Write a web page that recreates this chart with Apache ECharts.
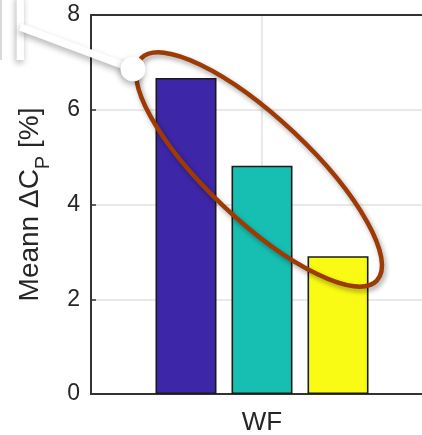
<!DOCTYPE html>
<html>
<head>
<meta charset="utf-8">
<title>Meann ΔCp</title>
<script src="https://cdn.jsdelivr.net/npm/echarts@6/dist/echarts.min.js"></script>
<style>
  html, body { margin: 0; padding: 0; background: #ffffff; }
  #chart { width: 422px; height: 435px; }
</style>
</head>
<body>
<div id="chart"></div>
<script>
// Category and series values
const categories = ['WF'];
const seriesNames = ['A', 'B', 'C'];
const seriesValues = [[6.67], [4.82], [2.91]];
const seriesColors = ['#3e26a8', '#17bfb2', '#f9fb15'];
const yTicks = [0, 2, 4, 6, 8];

const FONT = '"Liberation Sans", Arial, Helvetica, sans-serif';
const AXIS_COLOR = '#333333';
const TEXT_COLOR = '#262626';
const GRID_COLOR = '#e2e2e2';

const chart = echarts.init(document.getElementById('chart'), null, { renderer: 'canvas' });

const series = seriesNames.map((name, i) => ({
  name: name,
  type: 'bar',
  data: seriesValues[i],
  barWidth: 61,
  barGap: '24.6%',
  itemStyle: {
    color: seriesColors[i],
    borderColor: '#1a1a1a',
    borderWidth: 1.6
  },
  z: 3
}));

const option = {
  animation: false,
  backgroundColor: '#ffffff',
  textStyle: { fontFamily: FONT },
  // plot box runs past the right edge of the canvas
  grid: { left: 91, top: 15, width: 342, bottom: 41, containLabel: false, outerBoundsMode: 'none' },
  xAxis: [{
    type: 'category',
    data: categories,
    position: 'bottom',
    axisLine: { show: true, lineStyle: { color: AXIS_COLOR, width: 2 } },
    axisTick: { show: true, inside: true, length: 5, alignWithLabel: true,
                lineStyle: { color: AXIS_COLOR, width: 1.5 } },
    axisLabel: { color: TEXT_COLOR, fontSize: 26, fontFamily: FONT, margin: 16 },
    splitLine: { show: true, alignWithLabel: true,
                 lineStyle: { color: GRID_COLOR, width: 1.5 } }
  }, {
    type: 'category',
    data: categories,
    position: 'top',
    axisLine: { show: true, onZero: false, lineStyle: { color: AXIS_COLOR, width: 2 } },
    axisTick: { show: false },
    axisLabel: { show: false },
    splitLine: { show: false }
  }],
  yAxis: {
    type: 'value',
    min: yTicks[0],
    max: yTicks[yTicks.length - 1],
    interval: yTicks[1] - yTicks[0],
    axisLine: { show: true, lineStyle: { color: AXIS_COLOR, width: 2 } },
    axisTick: { show: true, inside: true, length: 5, lineStyle: { color: AXIS_COLOR, width: 1.5 } },
    axisLabel: { color: TEXT_COLOR, fontSize: 23, fontFamily: FONT, margin: 11 },
    splitLine: { show: true, lineStyle: { color: GRID_COLOR, width: 1.5 } },
    name: '{m|Meann ΔC}{s|P}{m| [%]}',
    nameLocation: 'middle',
    nameRotate: 90,
    nameGap: 47,
    nameTextStyle: {
      color: TEXT_COLOR,
      fontFamily: FONT,
      padding: [0, 0, 0, 0],
      rich: {
        m: { fontSize: 28, lineHeight: 28, verticalAlign: 'top', color: TEXT_COLOR, fontFamily: FONT },
        s: { fontSize: 20, lineHeight: 20, padding: [17, 0, 0, 0], verticalAlign: 'top', color: TEXT_COLOR, fontFamily: FONT }
      }
    }
  },
  series: series,
  graphic: [
    // faint edge line at the far left
    { type: 'line', z: 50, silent: true,
      shape: { x1: 1, y1: 0, x2: 1, y2: 60 },
      style: { stroke: '#d9d9d9', lineWidth: 2 } },
    // highlight ellipse around the bars
    { type: 'ellipse', z: 60, silent: true,
      x: 259, y: 169.5, rotation: -0.756,
      shape: { cx: 0, cy: 0, rx: 162, ry: 51 },
      style: { fill: null, stroke: '#9e3a04', lineWidth: 4.5,
               shadowBlur: 5, shadowColor: 'rgba(0,0,0,0.35)', shadowOffsetX: 2, shadowOffsetY: 3 } },
    // white callout connector
    { type: 'line', z: 70, silent: true,
      shape: { x1: 20.3, y1: -5, x2: 20.3, y2: 60 },
      style: { stroke: '#ffffff', lineWidth: 7.3,
               shadowBlur: 6, shadowColor: 'rgba(0,0,0,0.3)', shadowOffsetX: -1, shadowOffsetY: 3 } },
    { type: 'line', z: 70, silent: true,
      shape: { x1: 20.3, y1: 27, x2: 133, y2: 69 },
      style: { stroke: '#ffffff', lineWidth: 7.5,
               shadowBlur: 6, shadowColor: 'rgba(0,0,0,0.3)', shadowOffsetX: -1, shadowOffsetY: 3 } },
    { type: 'circle', z: 71, silent: true,
      shape: { cx: 133, cy: 69, r: 12.5 },
      style: { fill: '#ffffff',
               shadowBlur: 6, shadowColor: 'rgba(0,0,0,0.3)', shadowOffsetX: -1, shadowOffsetY: 3 } }
  ]
};

chart.setOption(option);
</script>
</body>
</html>
